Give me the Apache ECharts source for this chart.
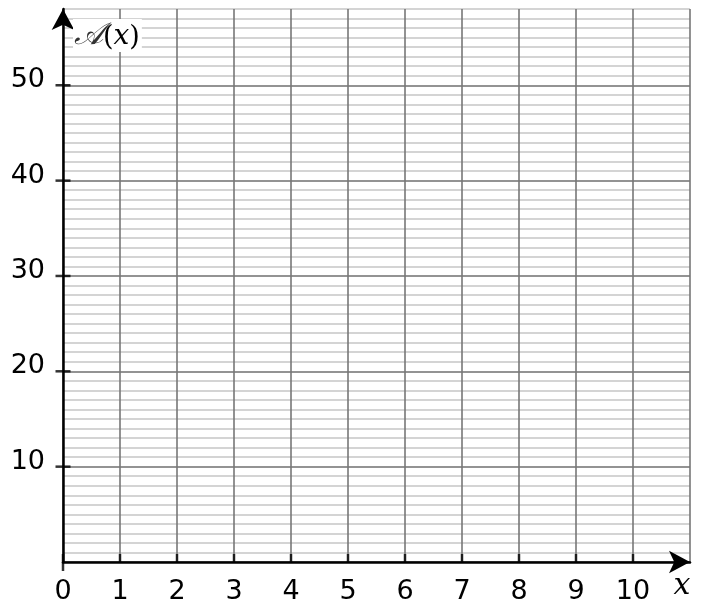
<!DOCTYPE html>
<html>
<head>
<meta charset="utf-8">
<style>
  html, body { margin: 0; padding: 0; background: #fff; }
  #chart { width: 702px; height: 606px; }
</style>
<script src="https://cdn.jsdelivr.net/npm/echarts@6/dist/echarts.min.js"></script>
</head>
<body>
<div id="chart"></div>
<script>
// ---- data ----
var xMin = 0, xMax = 11, xStep = 1;
var yMin = 0, yMax = 58, yStep = 1, yMajor = 10;
var xTickValues = [0, 1, 2, 3, 4, 5, 6, 7, 8, 9, 10];
var xLabelValues = [0, 1, 2, 3, 4, 5, 6, 7, 8, 9, 10];
var yTickValues = [10, 20, 30, 40, 50];
var yLabelValues = [10, 20, 30, 40, 50];
var origin = [[0, 0]];
var yAxisTitle = '𝒜';
var xAxisTitle = 'x';

// ---- styles ----
var majorColor = '#6f6f6f';
var minorColor = '#c6c6c6';
var splitColors = [majorColor];
for (var i = 1; i < yMajor; i++) splitColors.push(minorColor);

var chart = echarts.init(document.getElementById('chart'), null, { renderer: 'canvas' });

var option = {
  backgroundColor: '#ffffff',
  animation: false,
  grid: { left: 63, right: 12, top: 9, bottom: 44, containLabel: false },
  xAxis: {
    type: 'value',
    min: xMin, max: xMax, interval: xStep,
    axisLine: {
      show: true, onZero: false,
      symbol: ['none', 'arrow'], symbolSize: [17, 21], symbolOffset: [0, 0],
      lineStyle: { color: '#000', width: 2.5 }
    },
    axisTick: { show: false },
    axisLabel: {
      show: true, margin: 16, fontSize: 27, color: '#000', fontFamily: 'DejaVu Sans',
      formatter: function (v) { return xLabelValues.indexOf(v) >= 0 ? String(v) : ''; }
    },
    splitLine: { show: true, lineStyle: { color: '#777777', width: 1.6 } }
  },
  yAxis: {
    type: 'value',
    min: yMin, max: yMax, interval: yStep,
    axisLine: {
      show: true, onZero: false,
      symbol: ['none', 'arrow'], symbolSize: [17, 21], symbolOffset: [0, 0],
      lineStyle: { color: '#000', width: 2.5 }
    },
    axisTick: { show: false },
    axisLabel: {
      show: true, margin: 18, fontSize: 27, color: '#000', fontFamily: 'DejaVu Sans',
      verticalAlign: 'bottom', lineHeight: 10,
      formatter: function (v) { return yLabelValues.indexOf(v) >= 0 ? String(v) : ''; }
    },
    splitLine: { show: true, lineStyle: { color: splitColors, width: 1.6 } }
  },
  series: [
    {
      type: 'scatter', name: 'xTicks', silent: true, clip: false, z: 10,
      symbol: 'rect', symbolSize: [2.5, 8], symbolOffset: [0, -4],
      itemStyle: { color: '#000' },
      data: xTickValues.map(function (v) { return [v, 0]; })
    },
    {
      type: 'scatter', name: 'yTicks', silent: true, clip: false, z: 10,
      symbol: 'rect', symbolSize: [15, 2.5],
      itemStyle: { color: '#000' },
      data: yTickValues.map(function (v) { return [0, v]; })
    },
    {
      type: 'scatter', name: 'originExt', silent: true, clip: false, z: 10,
      symbol: 'rect', symbolSize: [2.5, 9], symbolOffset: [0, 4.5],
      itemStyle: { color: '#000' },
      data: origin
    }
  ],
  graphic: [
    {
      type: 'text', left: 73, top: 19, z: 100,
      style: {
        text: '{a|' + yAxisTitle + '}{p|(}{i|x}{p|)}',
        backgroundColor: '#fff',
        padding: [1, 2, 1, 1],
        rich: {
          a: { fontFamily: 'DejaVu Serif, Noto Sans, serif', fontSize: 31, fill: '#333', fontStyle: 'italic', verticalAlign: 'bottom' },
          p: { fontFamily: 'DejaVu Serif, serif', fontSize: 27, fill: '#000', verticalAlign: 'bottom' },
          i: { fontFamily: 'DejaVu Serif, serif', fontSize: 28, fill: '#000', fontStyle: 'italic', verticalAlign: 'bottom' }
        }
      }
    },
    {
      type: 'text', x: 682, y: 586, z: 100,
      style: {
        text: xAxisTitle,
        fontFamily: 'DejaVu Serif, serif', fontStyle: 'italic', fontSize: 30, fill: '#000',
        align: 'center', verticalAlign: 'middle'
      }
    }
  ]
};

chart.setOption(option);
</script>
</body>
</html>
